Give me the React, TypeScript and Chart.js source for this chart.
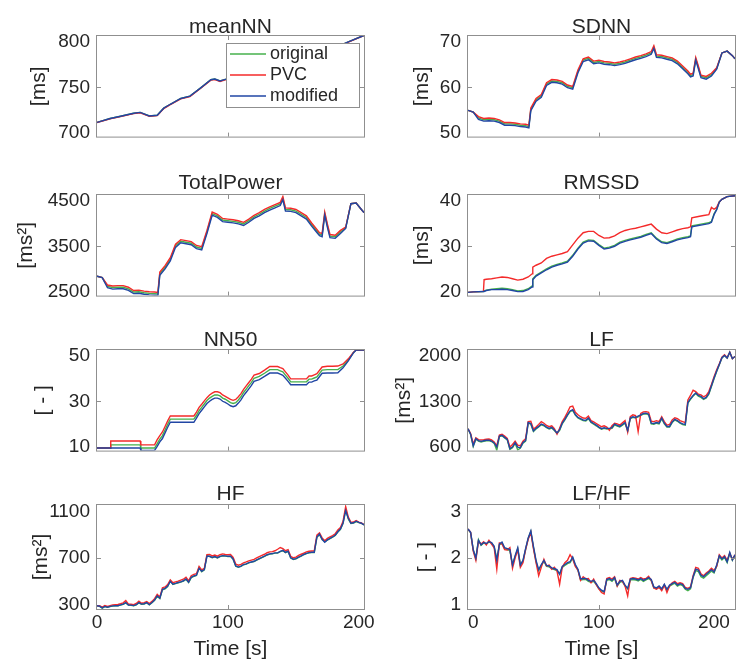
import React, { useEffect, useRef } from "react";
import { Chart, registerables } from "chart.js";

Chart.register(...registerables);

// ---------------- data ----------------
const seriesLabels = ["original", "PVC", "modified"];
const xTickValues = [0, 100, 200];

const meanNNTime = [0, 10, 18, 28, 33, 40, 46, 51, 56, 64, 71, 79, 87, 90, 94, 98, 110, 125, 140, 155, 170, 182, 192, 204];
const meanNNOriginal = [711.1, 715.4, 717.9, 721.2, 722.2, 718.3, 719.0, 726.9, 731.2, 737.6, 740.2, 749.1, 758.4, 759.1, 757.0, 758.8, 762.0, 768.0, 775.0, 781.0, 788.0, 794.0, 800.3, 807.5];
const meanNNPVC = [711.0, 715.0, 717.5, 720.8, 721.8, 717.9, 718.6, 726.4, 730.7, 737.1, 739.7, 748.6, 757.9, 758.6, 756.5, 758.3, 761.5, 767.5, 774.5, 780.5, 787.5, 793.5, 800.0, 807.5];
const meanNNModified = [711.1, 715.4, 717.9, 721.2, 722.2, 718.3, 719.0, 726.9, 731.2, 737.6, 740.2, 749.1, 758.4, 759.1, 757.0, 758.8, 762.0, 768.0, 775.0, 781.0, 788.0, 794.0, 800.3, 807.5];
const meanNNTicks = [700, 750, 800];

const slowTime = [0, 4, 8, 12, 16, 20, 24, 28, 32, 36, 40, 44, 46.5, 48, 52, 56, 60, 64, 68, 72, 76, 80, 84, 88, 92, 96, 100, 104, 108, 112, 116, 120, 124, 128, 132, 136, 140, 142, 144, 148, 152, 156, 160, 164, 168, 170, 172, 174, 176, 178, 182, 186, 190, 194, 198, 202, 204];

const sdnnOriginal = [54.9, 54.5, 53.2, 52.8, 52.9, 52.8, 52.5, 51.9, 51.9, 51.8, 51.6, 51.5, 51.3, 55.1, 57.2, 58.1, 60.7, 61.4, 61.3, 61.0, 60.2, 59.9, 63.5, 66.0, 66.4, 65.5, 65.7, 65.4, 65.3, 65.1, 65.3, 65.6, 66.0, 66.4, 66.7, 67.1, 67.6, 68.9, 66.9, 66.8, 66.5, 66.2, 65.5, 64.4, 63.3, 62.6, 62.8, 66.3, 64.4, 62.4, 62.1, 62.8, 64.1, 67.6, 68.0, 67.0, 66.3];
const sdnnPVC = [54.9, 54.5, 53.5, 53.1, 53.2, 53.1, 52.8, 52.2, 52.2, 52.1, 51.9, 51.8, 51.6, 55.4, 57.5, 58.4, 61.0, 61.7, 61.6, 61.3, 60.5, 60.2, 63.8, 66.3, 66.7, 65.8, 66.0, 65.7, 65.6, 65.4, 65.6, 65.9, 66.3, 66.7, 67.0, 67.4, 67.9, 69.2, 67.2, 67.1, 66.8, 66.5, 65.8, 64.7, 63.6, 62.9, 63.1, 66.6, 64.7, 62.7, 62.4, 63.1, 64.3, 67.6, 68.0, 67.0, 66.3];
const sdnnModified = [54.9, 54.5, 52.9, 52.5, 52.6, 52.5, 52.2, 51.6, 51.6, 51.5, 51.3, 51.2, 51.0, 54.8, 56.9, 57.8, 60.4, 61.1, 61.0, 60.7, 59.9, 59.6, 63.2, 65.7, 66.1, 65.2, 65.4, 65.1, 65.0, 64.8, 65.0, 65.3, 65.7, 66.1, 66.4, 66.8, 67.3, 68.6, 66.6, 66.5, 66.2, 65.9, 65.2, 64.1, 63.0, 62.3, 62.5, 66.0, 64.1, 62.1, 61.8, 62.5, 64.0, 67.6, 68.0, 67.0, 66.3];
const sdnnTicks = [50, 60, 70];

const totalPowerOriginal = [2835, 2806, 2612, 2586, 2593, 2593, 2558, 2486, 2494, 2472, 2458, 2451, 2444, 2892, 3035, 3212, 3511, 3611, 3590, 3568, 3483, 3454, 3817, 4223, 4173, 4081, 4066, 4052, 4031, 3995, 4066, 4152, 4209, 4280, 4337, 4387, 4437, 4565, 4315, 4308, 4280, 4209, 4138, 3981, 3839, 3768, 3746, 4223, 3960, 3725, 3711, 3817, 3909, 4443, 4457, 4315, 4244];
const totalPowerPVC = [2835, 2806, 2642, 2621, 2628, 2628, 2593, 2521, 2529, 2507, 2493, 2486, 2479, 2927, 3070, 3247, 3546, 3646, 3625, 3603, 3518, 3489, 3852, 4258, 4208, 4116, 4101, 4087, 4066, 4030, 4101, 4187, 4244, 4315, 4372, 4422, 4472, 4600, 4350, 4343, 4315, 4244, 4173, 4016, 3874, 3803, 3781, 4258, 3995, 3760, 3746, 3852, 3924, 4443, 4457, 4315, 4244];
const totalPowerModified = [2835, 2806, 2582, 2551, 2558, 2558, 2523, 2451, 2459, 2437, 2423, 2416, 2409, 2857, 3000, 3177, 3476, 3576, 3555, 3533, 3448, 3419, 3782, 4188, 4138, 4046, 4031, 4017, 3996, 3960, 4031, 4117, 4174, 4245, 4302, 4352, 4402, 4530, 4280, 4273, 4245, 4174, 4103, 3946, 3804, 3733, 3711, 4188, 3925, 3690, 3676, 3782, 3894, 4443, 4457, 4315, 4244];
const totalPowerTicks = [2500, 3500, 4500];

const rmssdTime = [0, 4, 11.8, 12.3, 14, 18, 22, 26, 30, 34, 38, 42, 46, 49, 49.5, 52, 56, 60, 64, 68, 72, 76, 80, 84, 88, 92, 96, 100, 104, 108, 112, 116, 120, 124, 128, 132, 136, 140, 144, 148, 152, 156, 160, 164, 168, 170, 171, 176, 180, 184, 186, 188, 190, 192, 194, 198, 204];
const rmssdOriginal = [19.8, 19.9, 20.0, 20.1, 20.3, 20.5, 20.6, 20.7, 20.6, 20.4, 20.1, 20.2, 20.6, 21.2, 22.8, 23.6, 24.3, 25.0, 25.6, 26.0, 26.3, 26.7, 28.0, 29.6, 30.9, 31.4, 31.3, 30.4, 29.6, 29.8, 30.2, 30.9, 31.3, 31.6, 31.9, 32.2, 32.6, 33.0, 31.8, 31.0, 30.8, 31.2, 31.6, 31.9, 32.1, 32.3, 34.5, 34.8, 35.0, 35.2, 35.5, 37.2, 38.2, 39.8, 40.4, 41.0, 41.2];
const rmssdPVC = [19.8, 19.9, 20.0, 22.6, 22.7, 22.8, 23.0, 23.2, 23.1, 22.8, 22.5, 22.7, 23.2, 23.9, 25.4, 25.8, 26.3, 27.3, 27.8, 28.1, 28.4, 28.8, 30.3, 31.8, 33.0, 33.3, 33.3, 32.4, 31.8, 31.9, 32.3, 33.0, 33.5, 33.8, 34.0, 34.3, 34.6, 34.9, 33.8, 33.0, 32.8, 33.2, 33.6, 33.9, 34.1, 34.3, 36.3, 36.6, 36.8, 37.0, 38.6, 38.2, 38.6, 39.8, 40.4, 41.0, 41.2];
const rmssdModified = [19.8, 19.9, 20.0, 20.0, 20.2, 20.4, 20.4, 20.5, 20.4, 20.2, 19.95, 20.0, 20.4, 21.0, 22.6, 23.4, 24.1, 24.8, 25.4, 25.8, 26.1, 26.5, 27.8, 29.4, 30.7, 31.2, 31.1, 30.2, 29.4, 29.6, 30.0, 30.7, 31.1, 31.4, 31.7, 32.0, 32.4, 32.8, 31.6, 30.8, 30.6, 31.0, 31.4, 31.7, 31.9, 32.1, 34.3, 34.6, 34.8, 35.0, 35.3, 37.0, 38.1, 39.8, 40.4, 41.0, 41.2];
const rmssdTicks = [20, 30, 40];

const nn50Time = [0, 10, 10.5, 33, 33.5, 44, 46, 48, 50, 52, 54, 56, 58, 74, 76, 78, 80, 82, 84, 86, 88, 90, 92, 94, 96, 98, 100, 102, 104, 106, 108, 110, 112, 114, 116, 118, 120, 124, 128, 132, 136, 138, 140, 142, 144, 146, 148, 150, 156, 160, 162, 164, 166, 168, 172, 176, 180, 184, 188, 192, 196, 198, 204];
const nn50Original = [9.3, 9.3, 10.7, 10.7, 9.3, 9.3, 11.2, 13.2, 14.8, 17.3, 19.8, 22.1, 22.1, 22.1, 23.8, 25.8, 27.3, 28.8, 30.3, 31.4, 32.2, 32.8, 32.8, 32.4, 31.4, 30.9, 30.2, 29.4, 29.0, 29.4, 30.6, 32.0, 33.9, 35.4, 36.9, 38.4, 40.2, 41.0, 42.4, 44.0, 44.0, 44.0, 43.5, 43.0, 41.6, 40.2, 38.6, 38.6, 38.6, 38.6, 39.8, 39.8, 40.3, 40.8, 43.8, 44.0, 44.0, 44.0, 45.6, 48.3, 51.6, 52.7, 52.7];
const nn50PVC = [9.3, 9.3, 12.4, 12.4, 10.7, 10.7, 13.0, 14.8, 16.4, 18.8, 21.3, 23.5, 23.5, 23.5, 25.2, 27.3, 28.7, 30.2, 31.6, 32.8, 33.6, 34.2, 34.2, 33.8, 32.8, 32.2, 31.5, 30.8, 30.4, 30.8, 32.0, 33.4, 35.3, 36.8, 38.3, 39.8, 41.6, 42.3, 43.8, 45.4, 45.4, 45.4, 44.9, 44.5, 43.0, 41.6, 39.9, 39.9, 39.9, 39.9, 41.2, 41.2, 41.7, 42.2, 45.2, 45.5, 45.5, 45.6, 46.5, 48.8, 51.7, 52.7, 52.7];
const nn50Modified = [9.3, 9.3, 9.3, 9.3, 8.2, 8.2, 10.0, 12.0, 13.5, 16.0, 18.5, 20.7, 20.7, 20.7, 22.5, 24.5, 26.0, 27.5, 29.0, 30.0, 30.8, 31.4, 31.4, 31.0, 30.0, 29.5, 28.8, 28.0, 27.6, 28.0, 29.2, 30.6, 32.5, 34.0, 35.5, 37.0, 38.8, 39.6, 41.0, 42.5, 42.5, 42.5, 42.0, 41.5, 40.2, 38.8, 37.3, 37.3, 37.3, 37.3, 38.5, 38.5, 39.0, 39.4, 42.4, 42.5, 42.5, 42.6, 44.8, 47.9, 51.5, 52.7, 52.7];
const nn50Ticks = [10, 30, 50];

const fastTime = [0, 2, 4, 6, 8, 10, 12, 14, 16, 18, 20, 22, 24, 26, 28, 30, 32, 34, 36, 38, 40, 42, 44, 46, 48, 50, 52, 54, 56, 58, 60, 62, 64, 66, 68, 70, 72, 74, 76, 78, 80, 82, 84, 86, 88, 90, 92, 94, 96, 98, 100, 102, 104, 106, 108, 110, 112, 114, 116, 118, 120, 122, 124, 126, 128, 130, 132, 134, 136, 138, 140, 142, 144, 146, 148, 150, 152, 154, 156, 158, 160, 162, 164, 166, 168, 170, 172, 174, 176, 178, 180, 182, 184, 186, 188, 190, 192, 194, 196, 198, 200, 202, 204];

const lfOriginal = [874, 785, 600, 712, 682, 670, 680, 688, 690, 676, 648, 540, 752, 765, 732, 702, 555, 580, 650, 545, 575, 650, 682, 960, 945, 830, 870, 900, 935, 920, 890, 870, 885, 845, 800, 850, 950, 1010, 1080, 1140, 1160, 1085, 1040, 1020, 1000, 995, 1030, 970, 945, 920, 890, 865, 880, 870, 875, 880, 935, 915, 900, 930, 960, 840, 1030, 1050, 1040, 1060, 1080, 1100, 1105, 1090, 950, 945, 960, 950, 1030, 950, 900, 900, 970, 1010, 990, 960, 940, 930, 1270, 1330, 1380, 1420, 1380, 1360, 1330, 1350, 1410, 1530, 1650, 1760, 1865, 1970, 2010, 1970, 2060, 1960, 1995];
const lfPVC = [874, 800, 640, 735, 705, 700, 705, 712, 715, 700, 670, 610, 775, 790, 760, 725, 590, 630, 680, 620, 610, 680, 720, 985, 990, 870, 900, 940, 985, 960, 925, 905, 920, 875, 790, 880, 985, 1050, 1130, 1215, 1225, 1130, 1090, 1060, 1040, 1035, 1070, 1000, 980, 955, 930, 905, 920, 900, 850, 920, 960, 950, 930, 965, 1000, 820, 1060, 1090, 1080, 830, 1110, 1135, 1140, 1130, 990, 985, 1000, 985, 1060, 985, 930, 940, 1010, 1045, 1030, 1000, 985, 970, 1320, 1390, 1470, 1450, 1410, 1400, 1370, 1390, 1450, 1560, 1680, 1790, 1880, 1985, 2020, 1975, 2060, 1960, 1995];
const lfModified = [874, 790, 610, 720, 690, 678, 688, 695, 698, 684, 655, 590, 760, 772, 740, 710, 565, 590, 660, 590, 580, 660, 690, 970, 955, 840, 880, 910, 945, 930, 900, 880, 895, 855, 810, 860, 960, 1020, 1090, 1150, 1170, 1095, 1050, 1030, 1010, 1005, 1040, 980, 955, 930, 900, 875, 890, 880, 880, 890, 945, 925, 910, 940, 970, 850, 1040, 1060, 1050, 1070, 1090, 1110, 1115, 1100, 960, 955, 970, 960, 1040, 960, 910, 910, 980, 1020, 1000, 970, 950, 940, 1280, 1340, 1390, 1430, 1390, 1375, 1340, 1360, 1420, 1540, 1660, 1770, 1870, 1975, 2010, 1970, 2060, 1960, 1995];
const lfTicks = [600, 1300, 2000];

const hfOriginal = [291, 285, 270, 284, 277, 283, 288, 290, 290, 296, 303, 315, 296, 295, 291, 299, 315, 304, 306, 316, 299, 316, 338, 372, 352, 428, 436, 456, 505, 474, 480, 488, 494, 502, 517, 490, 532, 543, 550, 618, 583, 598, 720, 713, 703, 710, 700, 712, 718, 716, 712, 714, 690, 630, 620, 628, 642, 648, 658, 664, 670, 682, 693, 703, 714, 726, 733, 736, 742, 742, 754, 762, 746, 756, 700, 688, 693, 706, 716, 728, 738, 744, 747, 747, 875, 902, 858, 840, 852, 865, 878, 893, 922, 945, 998, 1115, 1035, 996, 1000, 1012, 1003, 996, 984];
const hfPVC = [291, 292, 280, 292, 285, 292, 298, 300, 302, 308, 316, 335, 305, 304, 300, 310, 330, 312, 318, 326, 310, 328, 352, 388, 365, 445, 452, 472, 512, 488, 495, 502, 510, 518, 535, 505, 548, 560, 566, 628, 598, 612, 728, 730, 718, 725, 716, 728, 735, 730, 728, 730, 705, 648, 638, 645, 658, 666, 675, 682, 688, 700, 712, 722, 732, 745, 752, 755, 762, 775, 790, 780, 762, 772, 715, 702, 708, 722, 732, 742, 752, 758, 760, 762, 895, 915, 872, 848, 868, 880, 892, 908, 940, 962, 1015, 1140, 1050, 1005, 1008, 1020, 1008, 1000, 986];
const hfModified = [291, 287, 272, 285, 278, 285, 290, 291, 291, 298, 305, 318, 297, 296, 292, 300, 318, 305, 308, 318, 300, 318, 340, 376, 355, 432, 440, 460, 500, 476, 482, 490, 496, 505, 520, 492, 535, 546, 552, 612, 585, 600, 715, 715, 705, 712, 703, 714, 720, 718, 715, 716, 692, 632, 622, 630, 644, 650, 660, 666, 672, 684, 695, 705, 716, 728, 735, 738, 744, 744, 756, 765, 748, 758, 702, 690, 695, 708, 718, 730, 740, 746, 749, 749, 880, 905, 860, 835, 855, 868, 880, 895, 925, 948, 1000, 1105, 1040, 998, 1002, 1015, 1005, 998, 984];
const hfTicks = [300, 700, 1100];

const lfhfOriginal = [2.62, 2.54, 2.17, 1.99, 2.39, 2.27, 2.32, 2.30, 2.34, 2.32, 2.24, 1.97, 2.28, 2.32, 2.20, 2.18, 2.16, 1.86, 2.03, 2.20, 1.86, 1.93, 2.18, 2.42, 2.57, 2.23, 1.92, 1.73, 1.84, 1.93, 1.82, 1.81, 1.77, 1.75, 1.73, 1.66, 1.80, 1.84, 1.88, 1.90, 2.00, 1.84, 1.74, 1.53, 1.54, 1.54, 1.50, 1.48, 1.50, 1.43, 1.34, 1.29, 1.27, 1.52, 1.54, 1.50, 1.56, 1.40, 1.48, 1.50, 1.40, 1.34, 1.53, 1.54, 1.53, 1.51, 1.54, 1.50, 1.53, 1.56, 1.52, 1.36, 1.34, 1.38, 1.32, 1.42, 1.31, 1.40, 1.43, 1.46, 1.40, 1.43, 1.41, 1.33, 1.30, 1.34, 1.58, 1.73, 1.71, 1.60, 1.57, 1.62, 1.67, 1.72, 1.68, 1.83, 2.03, 1.96, 2.01, 1.90, 2.10, 1.95, 2.05];
const lfhfPVC = [2.62, 2.55, 2.15, 1.95, 2.36, 2.30, 2.35, 2.28, 2.38, 2.30, 2.22, 1.76, 2.32, 2.30, 2.18, 2.17, 2.22, 1.78, 2.00, 2.18, 1.80, 1.90, 2.18, 2.40, 2.55, 2.20, 1.90, 1.62, 1.80, 1.97, 1.83, 1.85, 1.76, 1.80, 1.72, 1.44, 1.80, 1.90, 1.95, 2.07, 1.98, 1.82, 1.74, 1.52, 1.60, 1.55, 1.56, 1.47, 1.55, 1.43, 1.34, 1.26, 1.23, 1.56, 1.58, 1.55, 1.60, 1.40, 1.52, 1.50, 1.40, 1.19, 1.56, 1.58, 1.57, 1.55, 1.58, 1.55, 1.56, 1.61, 1.52, 1.36, 1.33, 1.37, 1.30, 1.42, 1.26, 1.40, 1.47, 1.50, 1.45, 1.47, 1.45, 1.37, 1.35, 1.38, 1.62, 1.80, 1.78, 1.66, 1.62, 1.68, 1.72, 1.78, 1.73, 1.82, 2.07, 2.00, 2.05, 1.95, 2.10, 1.97, 2.07];
const lfhfModified = [2.62, 2.55, 2.18, 2.00, 2.38, 2.28, 2.33, 2.31, 2.35, 2.33, 2.25, 1.95, 2.30, 2.34, 2.22, 2.20, 2.18, 1.85, 2.05, 2.22, 1.85, 1.95, 2.20, 2.43, 2.58, 2.25, 1.95, 1.75, 1.86, 1.95, 1.84, 1.83, 1.79, 1.77, 1.75, 1.65, 1.82, 1.86, 1.90, 1.92, 2.02, 1.86, 1.76, 1.55, 1.56, 1.56, 1.52, 1.50, 1.52, 1.45, 1.36, 1.31, 1.28, 1.54, 1.56, 1.52, 1.58, 1.42, 1.50, 1.52, 1.42, 1.35, 1.55, 1.56, 1.55, 1.53, 1.56, 1.52, 1.55, 1.58, 1.54, 1.38, 1.36, 1.40, 1.34, 1.44, 1.33, 1.42, 1.45, 1.48, 1.42, 1.45, 1.43, 1.35, 1.33, 1.36, 1.60, 1.76, 1.74, 1.63, 1.60, 1.65, 1.70, 1.75, 1.70, 1.85, 2.05, 1.98, 2.03, 1.92, 2.12, 1.96, 2.07];
const lfhfTicks = [1, 2, 3];

// ---------------- styling / layout ----------------
const FONT = "'Liberation Sans', Arial, Helvetica, sans-serif";
const TEXT = "#262626";
const AXIS = "#8f8f8f";
const LINE_COLORS = ["#46b04c", "#f42a2a", "#2146a4"];
const X_MIN = 0;
const X_MAX = 204;
const ROW_TOPS = [36, 195, 350, 505];
const TITLE_GAPS = [3, 6.5, 4, 5.3];
const PLOT_H = 104;
const PLOT_W = 267;
const Y_AXIS_W = 97;
const CANVAS_W = 390;

const PANELS: any[] = [
  { title: "meanNN", unit: "[ms]", col: 0, row: 0, time: meanNNTime, series: [meanNNOriginal, meanNNPVC, meanNNModified], ticks: meanNNTicks, min: 695.4, max: 806.8, unitPad: 26.4, legend: true },
  { title: "SDNN", unit: "[ms]", col: 1, row: 0, time: slowTime, series: [sdnnOriginal, sdnnPVC, sdnnModified], ticks: sdnnTicks, min: 49.08, max: 71.35, unitPad: 39.1 },
  { title: "TotalPower", unit: "[ms²]", col: 0, row: 1, time: slowTime, series: [totalPowerOriginal, totalPowerPVC, totalPowerModified], ticks: totalPowerTicks, min: 2407.6, max: 4635.4, unitPad: 13.9 },
  { title: "RMSSD", unit: "[ms]", col: 1, row: 1, time: rmssdTime, series: [rmssdOriginal, rmssdPVC, rmssdModified], ticks: rmssdTicks, min: 19.08, max: 41.35, unitPad: 39.1 },
  { title: "NN50", unit: "[ - ]", col: 0, row: 2, time: nn50Time, series: [nn50Original, nn50PVC, nn50Modified], ticks: nn50Ticks, min: 8.15, max: 52.71, unitPad: 30.4 },
  { title: "LF", unit: "[ms²]", col: 1, row: 2, time: fastTime, series: [lfOriginal, lfPVC, lfModified], ticks: lfTicks, min: 535.3, max: 2094.8, unitPad: 20.7 },
  { title: "HF", unit: "[ms²]", col: 0, row: 3, time: fastTime, series: [hfOriginal, hfPVC, hfModified], ticks: hfTicks, min: 263, max: 1154, unitPad: 29.1 },
  { title: "LF/HF", unit: "[ - ]", col: 1, row: 3, time: fastTime, series: [lfhfOriginal, lfhfPVC, lfhfModified], ticks: lfhfTicks, min: 0.908, max: 3.135, unitPad: 42.4 },
];

const decorPlugin = {
  id: "panelDecor",
  afterDatasetsDraw(chart: any) {
    const { ctx, chartArea: a, scales } = chart;
    ctx.save();
    ctx.strokeStyle = AXIS;
    ctx.lineWidth = 1;
    ctx.beginPath();
    const yt = scales.y.ticks;
    for (let i = 1; i < yt.length - 1; i++) {
      const py = Math.round(scales.y.getPixelForValue(yt[i].value)) + 0.5;
      ctx.moveTo(a.left, py);
      ctx.lineTo(a.left + 4, py);
      ctx.moveTo(a.right, py);
      ctx.lineTo(a.right - 4, py);
    }
    const xt = scales.x.ticks;
    for (let i = 1; i < xt.length - 1; i++) {
      const px = Math.round(scales.x.getPixelForValue(xt[i].value)) + 0.5;
      ctx.moveTo(px, a.bottom);
      ctx.lineTo(px, a.bottom - 4);
      ctx.moveTo(px, a.top);
      ctx.lineTo(px, a.top + 4);
    }
    ctx.stroke();
    ctx.strokeRect(a.left - 0.5, a.top - 0.5, a.right - a.left + 1, a.bottom - a.top + 1);
    ctx.restore();
  },
  afterDraw(chart: any, _args: any, opts: any) {
    const { ctx, chartArea: a } = chart;
    ctx.save();
    ctx.fillStyle = TEXT;
    ctx.font = `21px ${FONT}`;
    ctx.textAlign = "center";
    ctx.textBaseline = "alphabetic";
    ctx.fillText(opts.title, (a.left + a.right) / 2, a.top - opts.titleGap);
    if (opts.legend) {
      const bw = 133;
      const bh = 64;
      const bx = a.right - 138;
      const by = a.top + 7;
      ctx.fillStyle = "#ffffff";
      ctx.fillRect(bx, by, bw, bh);
      ctx.strokeStyle = AXIS;
      ctx.lineWidth = 1;
      ctx.strokeRect(bx + 0.5, by + 0.5, bw, bh);
      ctx.font = `18px ${FONT}`;
      ctx.textAlign = "left";
      ctx.textBaseline = "middle";
      chart.data.datasets.forEach((ds: any, i: number) => {
        const cy = by + 11 + i * 21;
        ctx.strokeStyle = ds.borderColor;
        ctx.lineWidth = 1.5;
        ctx.beginPath();
        ctx.moveTo(bx + 4, cy);
        ctx.lineTo(bx + 40, cy);
        ctx.stroke();
        ctx.fillStyle = TEXT;
        ctx.fillText(ds.label, bx + 44, cy + 0.5);
      });
    }
    ctx.restore();
  },
};

function Panel({ p }: { p: any }) {
  const ref = useRef<HTMLCanvasElement>(null);
  const bottomRow = p.row === 3;
  const canvasH = bottomRow ? 190 : 155;
  const left = p.col * 371;
  const top = ROW_TOPS[p.row] - 36;

  useEffect(() => {
    const canvas = ref.current;
    if (!canvas) return;
    const datasets = p.series.map((vals: number[], i: number) => ({
      label: seriesLabels[i],
      data: vals.map((v: number, k: number) => ({ x: p.time[k], y: v })),
      borderColor: LINE_COLORS[i],
      backgroundColor: LINE_COLORS[i],
      borderWidth: 1.4,
      pointRadius: 0,
      pointHoverRadius: 0,
      fill: false,
      tension: 0,
      order: 3 - i,
    }));
    const tickFont = { family: FONT, size: 19 };
    const labelFont = { family: FONT, size: 21 };
    const chart = new Chart(canvas, {
      type: "line",
      data: { datasets },
      options: {
        responsive: false,
        animation: false,
        events: [],
        layout: { padding: { top: 36, left: 0, right: CANVAS_W - Y_AXIS_W - PLOT_W, bottom: 0 } },
        plugins: {
          legend: { display: false },
          title: { display: false },
          tooltip: { enabled: false },
          panelDecor: { title: p.title, titleGap: TITLE_GAPS[p.row], legend: !!p.legend },
        } as any,
        scales: {
          x: {
            type: "linear",
            min: X_MIN,
            max: X_MAX,
            grid: { display: false, drawTicks: false },
            border: { display: false },
            ticks: {
              display: bottomRow,
              font: tickFont,
              color: TEXT,
              padding: 2,
              maxRotation: 0,
              autoSkip: false,
              align: p.col === 1 ? "inner" : "center",
              callback: (v: any) => String(v),
            },
            title: {
              display: bottomRow,
              text: "Time [s]",
              font: labelFont,
              color: TEXT,
              padding: { top: 0, bottom: -3 },
            },
            afterBuildTicks: (s: any) => {
              s.ticks = xTickValues.map((v) => ({ value: v }));
            },
            afterFit: (s: any) => {
              s.height = canvasH - 36 - PLOT_H;
            },
          },
          y: {
            type: "linear",
            min: p.min,
            max: p.max,
            grid: { display: false, drawTicks: false },
            border: { display: false },
            ticks: {
              font: tickFont,
              color: TEXT,
              padding: 7,
              autoSkip: false,
              callback: (v: any) => String(v),
            },
            title: {
              display: true,
              text: p.unit,
              font: labelFont,
              color: TEXT,
              padding: { top: p.unitPad, bottom: 0 },
            },
            afterBuildTicks: (s: any) => {
              s.ticks = p.ticks.map((v: number) => ({ value: v }));
            },
            afterFit: (s: any) => {
              s.width = Y_AXIS_W;
            },
          },
        },
      } as any,
      plugins: [decorPlugin],
    });
    return () => chart.destroy();
  }, []);

  return (
    <canvas
      ref={ref}
      width={CANVAS_W}
      height={canvasH}
      style={{ position: "absolute", left, top, width: CANVAS_W, height: canvasH }}
    />
  );
}

export default function App() {
  return (
    <div
      style={{
        position: "fixed",
        left: 0,
        top: 0,
        width: 742,
        height: 659,
        overflow: "hidden",
        background: "#ffffff",
      }}
    >
      {PANELS.map((p) => (
        <Panel key={p.title} p={p} />
      ))}
    </div>
  );
}
